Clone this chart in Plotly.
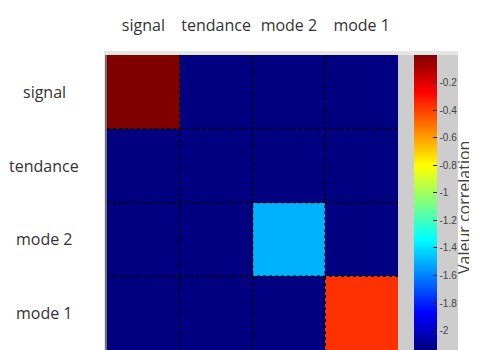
import plotly.graph_objects as go

# ---- data ----
categories = ["signal", "tendance", "mode 2", "mode 1"]
corr_values = [
    [0.0, -2.14, -2.14, -2.14],
    [-2.14, -2.14, -2.14, -2.14],
    [-2.14, -2.14, -1.5, -2.14],
    [-2.14, -2.14, -2.14, -0.37],
]
cbar_tickvals = [-2.0, -1.8, -1.6, -1.4, -1.2, -1.0, -0.8, -0.6, -0.4, -0.2]
cbar_ticktext = ["-2", "-1.8", "-1.6", "-1.4", "-1.2", "-1", "-0.8", "-0.6", "-0.4", "-0.2"]
zmin, zmax = -2.14, 0.0
cbar_title = "Valeur correlation"

# MATLAB jet colormap
jet = [
    [0.0, "rgb(0,0,128)"],
    [0.125, "rgb(0,0,255)"],
    [0.375, "rgb(0,255,255)"],
    [0.625, "rgb(255,255,0)"],
    [0.875, "rgb(255,0,0)"],
    [1.0, "rgb(128,0,0)"],
]

# page body has a default 8px margin: work in screen pixels, shift by offset
OX, OY = 8, 8
W, H = 477 - OX, 350 - OY
PL, PR, PT, PB = 107, 398, 55, 350   # plot area in screen pixels
L, T = PL - OX, PT - OY
R, B = (OX + W) - PR, (OY + H) - PB
pw, ph = PR - PL, PB - PT

def px_x(p):
    return (p - PL) / pw

def px_y(p):
    return (PB - p) / ph

n = len(categories)
idx = list(range(n))

fig = go.Figure(go.Heatmap(
    z=corr_values, x=idx, y=idx,
    colorscale=jet, zmin=zmin, zmax=zmax,
    xgap=0, ygap=0,
    colorbar=dict(
        x=px_x(414), xanchor="left", xpad=0,
        y=0.5, yanchor="middle", ypad=0,
        len=1, lenmode="fraction",
        thickness=23, thicknessmode="pixels",
        outlinewidth=0,
        tickvals=cbar_tickvals, ticktext=cbar_ticktext,
        ticks="inside", ticklen=4, tickcolor="#222", tickwidth=1,
        tickfont=dict(family="Liberation Sans", size=10, color="#444"),
    ),
    hoverinfo="skip",
))

shapes = []
# gray figure panel
shapes.append(dict(type="rect", xref="paper", yref="paper", layer="below",
                   x0=px_x(104), x1=px_x(458), y0=-0.05, y1=px_y(51),
                   fillcolor="#CDCDCD", line=dict(width=0)))
shapes.append(dict(type="rect", xref="paper", yref="paper", layer="below",
                   x0=px_x(104), x1=px_x(458), y0=px_y(55), y1=px_y(51),
                   fillcolor="#E6E6E6", line=dict(width=0)))
shapes.append(dict(type="rect", xref="paper", yref="paper", layer="below",
                   x0=px_x(104), x1=px_x(105), y0=-0.05, y1=px_y(51),
                   fillcolor="#E6E6E6", line=dict(width=0)))
shapes.append(dict(type="line", xref="paper", yref="paper", layer="above",
                   x0=px_x(106), x1=px_x(106), y0=-0.05, y1=1,
                   line=dict(color="#707070", width=2)))
# dotted grid lines at cell boundaries
for k in range(1, n):
    b = k - 0.5
    shapes.append(dict(type="line", xref="x", yref="y", layer="above",
                       x0=b, x1=b, y0=-0.5, y1=n - 0.5,
                       line=dict(color="black", width=1.5, dash="dot")))
    shapes.append(dict(type="line", xref="x", yref="y", layer="above",
                       x0=-0.5, x1=n - 0.5, y0=b, y1=b,
                       line=dict(color="black", width=1.5, dash="dot")))

annotations = []
for i, c in enumerate(categories):
    annotations.append(dict(text=c, xref="paper", yref="y", x=px_x(44), y=i,
                            xanchor="center", yanchor="middle", showarrow=False,
                            font=dict(family="Open Sans", size=16, color="#333")))
# colorbar title (rotated, reads bottom-to-top)
annotations.append(dict(text=cbar_title, xref="paper", yref="paper",
                        x=px_x(440), y=px_y(167), xshift=24, yshift=-41,
                        textangle=-90,
                        xanchor="center", yanchor="middle", showarrow=False,
                        font=dict(family="Open Sans", size=16, color="#444")))

fig.update_layout(
    width=W, height=H,
    margin=dict(l=L, r=R, t=T, b=B, pad=0, autoexpand=False),
    paper_bgcolor="white", plot_bgcolor="white",
    shapes=shapes, annotations=annotations,
    xaxis=dict(side="top", tickvals=idx, ticktext=categories,
               range=[-0.5, n - 0.5], showgrid=False, zeroline=False,
               ticks="", ticklabelstandoff=20,
               tickfont=dict(family="Open Sans", size=16, color="#333")),
    yaxis=dict(range=[n - 0.5, -0.5], showgrid=False, zeroline=False,
               showticklabels=False, ticks=""),
)

fig.write_html("out.html")
